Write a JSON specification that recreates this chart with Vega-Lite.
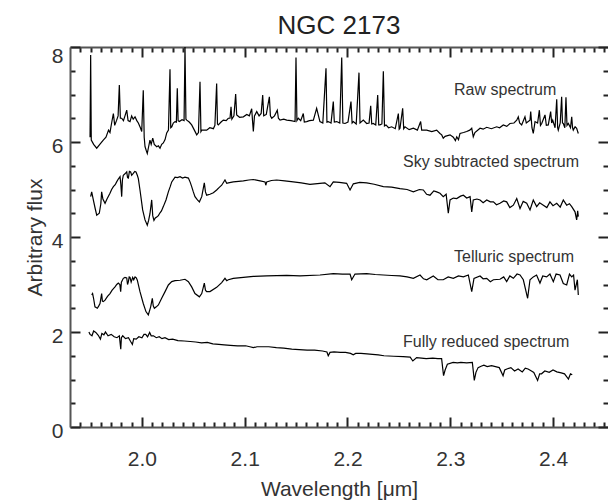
{
  "$schema": "https://vega.github.io/schema/vega-lite/v6.json",
  "width": 538,
  "height": 380,
  "autosize": {"type": "none"},
  "padding": {"left": 70, "top": 47, "right": 0, "bottom": 75},
  "background": "white",
  "title": {"text": "NGC 2173", "fontSize": 26, "fontWeight": "normal", "font": "Liberation Sans", "color": "#222", "offset": 6, "frame": "group", "anchor": "middle"},
  "config": {
    "view": {"stroke": null},
    "axis": {"grid": false, "domainColor": "#555", "tickColor": "#222", "domainWidth": 2, "tickWidth": 2, "labelFont": "Liberation Sans", "titleFont": "Liberation Sans", "labelColor": "#333", "titleColor": "#333", "labelFontSize": 21, "titleFontSize": 21, "titleFontWeight": "normal", "labelOverlap": false, "labelBound": false, "labelFlush": false}
  },
  "datasets": {
    "labels": [
      {"label": "Raw spectrum", "w": 2.3037, "f": 7.095},
      {"label": "Sky subtracted spectrum", "w": 2.254, "f": 5.585},
      {"label": "Telluric spectrum", "w": 2.3037, "f": 3.585},
      {"label": "Fully reduced spectrum", "w": 2.254, "f": 1.796}
    ],
    "spectra": [
      {"s":"raw","w":1.9495,"f":6.10},{"s":"raw","w":1.9501,"f":7.83},{"s":"raw","w":1.9507,"f":6.04},{"s":"raw","w":1.9530,"f":5.95},{"s":"raw","w":1.9560,"f":5.87},{"s":"raw","w":1.9590,"f":5.95},{"s":"raw","w":1.9624,"f":6.04},{"s":"raw","w":1.9650,"f":6.10},{"s":"raw","w":1.9675,"f":6.25},{"s":"raw","w":1.9689,"f":6.20},{"s":"raw","w":1.9705,"f":6.40},{"s":"raw","w":1.9722,"f":6.60},{"s":"raw","w":1.9735,"f":6.35},{"s":"raw","w":1.9754,"f":6.46},{"s":"raw","w":1.9768,"f":6.55},{"s":"raw","w":1.9780,"f":7.20},{"s":"raw","w":1.9790,"f":6.50},{"s":"raw","w":1.9803,"f":6.50},{"s":"raw","w":1.9820,"f":6.45},{"s":"raw","w":1.9835,"f":6.55},{"s":"raw","w":1.9852,"f":6.67},{"s":"raw","w":1.9865,"f":6.45},{"s":"raw","w":1.9884,"f":6.43},{"s":"raw","w":1.9900,"f":6.55},{"s":"raw","w":1.9915,"f":6.48},{"s":"raw","w":1.9933,"f":6.53},{"s":"raw","w":1.9950,"f":6.45},{"s":"raw","w":1.9965,"f":6.40},{"s":"raw","w":1.9985,"f":6.30},{"s":"raw","w":1.9998,"f":6.22},{"s":"raw","w":2.0013,"f":7.09},{"s":"raw","w":2.0022,"f":6.10},{"s":"raw","w":2.0030,"f":5.90},{"s":"raw","w":2.0042,"f":5.82},{"s":"raw","w":2.0052,"f":5.76},{"s":"raw","w":2.0065,"f":5.90},{"s":"raw","w":2.0078,"f":6.04},{"s":"raw","w":2.0090,"f":5.95},{"s":"raw","w":2.0105,"f":6.08},{"s":"raw","w":2.0120,"f":5.95},{"s":"raw","w":2.0144,"f":5.90},{"s":"raw","w":2.0160,"f":5.92},{"s":"raw","w":2.0176,"f":5.87},{"s":"raw","w":2.0192,"f":5.95},{"s":"raw","w":2.0208,"f":5.98},{"s":"raw","w":2.0225,"f":6.05},{"s":"raw","w":2.0241,"f":6.19},{"s":"raw","w":2.0258,"f":6.25},{"s":"raw","w":2.0273,"f":7.53},{"s":"raw","w":2.0280,"f":6.30},{"s":"raw","w":2.0290,"f":6.32},{"s":"raw","w":2.0305,"f":6.40},{"s":"raw","w":2.0322,"f":6.43},{"s":"raw","w":2.0335,"f":6.42},{"s":"raw","w":2.0344,"f":7.13},{"s":"raw","w":2.0352,"f":6.45},{"s":"raw","w":2.0364,"f":6.43},{"s":"raw","w":2.0390,"f":6.47},{"s":"raw","w":2.0410,"f":6.45},{"s":"raw","w":2.0419,"f":8.0},{"s":"raw","w":2.0428,"f":6.48},{"s":"raw","w":2.0436,"f":6.46},{"s":"raw","w":2.0460,"f":6.42},{"s":"raw","w":2.0484,"f":6.36},{"s":"raw","w":2.0510,"f":6.25},{"s":"raw","w":2.0533,"f":6.15},{"s":"raw","w":2.0550,"f":6.20},{"s":"raw","w":2.0565,"f":7.27},{"s":"raw","w":2.0574,"f":6.22},{"s":"raw","w":2.0582,"f":6.25},{"s":"raw","w":2.0605,"f":6.25},{"s":"raw","w":2.0630,"f":6.25},{"s":"raw","w":2.0660,"f":6.30},{"s":"raw","w":2.0695,"f":6.28},{"s":"raw","w":2.0710,"f":6.35},{"s":"raw","w":2.0727,"f":7.23},{"s":"raw","w":2.0735,"f":6.38},{"s":"raw","w":2.0743,"f":6.36},{"s":"raw","w":2.0770,"f":6.42},{"s":"raw","w":2.0792,"f":6.46},{"s":"raw","w":2.0820,"f":6.45},{"s":"raw","w":2.0840,"f":6.50},{"s":"raw","w":2.0857,"f":6.50},{"s":"raw","w":2.0867,"f":6.74},{"s":"raw","w":2.0875,"f":6.48},{"s":"raw","w":2.0895,"f":6.55},{"s":"raw","w":2.0912,"f":7.01},{"s":"raw","w":2.0922,"f":6.57},{"s":"raw","w":2.0950,"f":6.52},{"s":"raw","w":2.0987,"f":6.53},{"s":"raw","w":2.1020,"f":6.58},{"s":"raw","w":2.1045,"f":6.55},{"s":"raw","w":2.1068,"f":6.70},{"s":"raw","w":2.1076,"f":6.45},{"s":"raw","w":2.1084,"f":6.22},{"s":"raw","w":2.1095,"f":6.55},{"s":"raw","w":2.1117,"f":6.64},{"s":"raw","w":2.1140,"f":6.55},{"s":"raw","w":2.1160,"f":6.60},{"s":"raw","w":2.1175,"f":6.99},{"s":"raw","w":2.1185,"f":6.55},{"s":"raw","w":2.1210,"f":6.58},{"s":"raw","w":2.1240,"f":6.95},{"s":"raw","w":2.1250,"f":6.55},{"s":"raw","w":2.1263,"f":6.50},{"s":"raw","w":2.1290,"f":6.55},{"s":"raw","w":2.1317,"f":6.67},{"s":"raw","w":2.1328,"f":6.50},{"s":"raw","w":2.1344,"f":6.46},{"s":"raw","w":2.1380,"f":6.48},{"s":"raw","w":2.1409,"f":6.46},{"s":"raw","w":2.1450,"f":6.45},{"s":"raw","w":2.1490,"f":6.43},{"s":"raw","w":2.1499,"f":7.78},{"s":"raw","w":2.1508,"f":6.45},{"s":"raw","w":2.1522,"f":6.50},{"s":"raw","w":2.1545,"f":6.45},{"s":"raw","w":2.1570,"f":6.60},{"s":"raw","w":2.1580,"f":6.42},{"s":"raw","w":2.1603,"f":6.43},{"s":"raw","w":2.1630,"f":6.45},{"s":"raw","w":2.1668,"f":6.46},{"s":"raw","w":2.1700,"f":6.71},{"s":"raw","w":2.1732,"f":6.43},{"s":"raw","w":2.1760,"f":6.40},{"s":"raw","w":2.1791,"f":7.55},{"s":"raw","w":2.1800,"f":6.42},{"s":"raw","w":2.1813,"f":6.43},{"s":"raw","w":2.1840,"f":6.40},{"s":"raw","w":2.1862,"f":6.85},{"s":"raw","w":2.1872,"f":6.42},{"s":"raw","w":2.1895,"f":6.43},{"s":"raw","w":2.1925,"f":6.40},{"s":"raw","w":2.1944,"f":7.78},{"s":"raw","w":2.1955,"f":6.40},{"s":"raw","w":2.1976,"f":6.39},{"s":"raw","w":2.2005,"f":6.42},{"s":"raw","w":2.2034,"f":6.85},{"s":"raw","w":2.2045,"f":6.40},{"s":"raw","w":2.2057,"f":6.43},{"s":"raw","w":2.2085,"f":6.38},{"s":"raw","w":2.2112,"f":7.46},{"s":"raw","w":2.2122,"f":6.40},{"s":"raw","w":2.2154,"f":6.46},{"s":"raw","w":2.2187,"f":6.39},{"s":"raw","w":2.2210,"f":6.40},{"s":"raw","w":2.2226,"f":6.76},{"s":"raw","w":2.2236,"f":6.38},{"s":"raw","w":2.2251,"f":6.39},{"s":"raw","w":2.2275,"f":6.36},{"s":"raw","w":2.2294,"f":6.99},{"s":"raw","w":2.2304,"f":6.36},{"s":"raw","w":2.2316,"f":6.36},{"s":"raw","w":2.2335,"f":6.38},{"s":"raw","w":2.2349,"f":7.49},{"s":"raw","w":2.2360,"f":6.34},{"s":"raw","w":2.2375,"f":6.36},{"s":"raw","w":2.2400,"f":6.30},{"s":"raw","w":2.2430,"f":6.32},{"s":"raw","w":2.2465,"f":6.28},{"s":"raw","w":2.2495,"f":6.60},{"s":"raw","w":2.2503,"f":6.27},{"s":"raw","w":2.2511,"f":6.29},{"s":"raw","w":2.2537,"f":6.71},{"s":"raw","w":2.2547,"f":6.28},{"s":"raw","w":2.2560,"f":6.32},{"s":"raw","w":2.2600,"f":6.26},{"s":"raw","w":2.2641,"f":6.29},{"s":"raw","w":2.2680,"f":6.25},{"s":"raw","w":2.2712,"f":6.43},{"s":"raw","w":2.2722,"f":6.25},{"s":"raw","w":2.2771,"f":6.25},{"s":"raw","w":2.2820,"f":6.22},{"s":"raw","w":2.2868,"f":6.25},{"s":"raw","w":2.2900,"f":6.18},{"s":"raw","w":2.2917,"f":6.15},{"s":"raw","w":2.2932,"f":6.08},{"s":"raw","w":2.2950,"f":6.12},{"s":"raw","w":2.2998,"f":6.15},{"s":"raw","w":2.3030,"f":6.10},{"s":"raw","w":2.3050,"f":6.03},{"s":"raw","w":2.3063,"f":6.11},{"s":"raw","w":2.3080,"f":6.05},{"s":"raw","w":2.3095,"f":6.18},{"s":"raw","w":2.3130,"f":6.20},{"s":"raw","w":2.3160,"f":6.22},{"s":"raw","w":2.3190,"f":6.25},{"s":"raw","w":2.3209,"f":6.29},{"s":"raw","w":2.3224,"f":6.11},{"s":"raw","w":2.3240,"f":6.20},{"s":"raw","w":2.3290,"f":6.29},{"s":"raw","w":2.3320,"f":6.27},{"s":"raw","w":2.3355,"f":6.31},{"s":"raw","w":2.3400,"f":6.28},{"s":"raw","w":2.3452,"f":6.32},{"s":"raw","w":2.3480,"f":6.30},{"s":"raw","w":2.3516,"f":6.36},{"s":"raw","w":2.3550,"f":6.33},{"s":"raw","w":2.3581,"f":6.39},{"s":"raw","w":2.3620,"f":6.40},{"s":"raw","w":2.3647,"f":6.46},{"s":"raw","w":2.3662,"f":6.53},{"s":"raw","w":2.3675,"f":6.40},{"s":"raw","w":2.3695,"f":6.36},{"s":"raw","w":2.3727,"f":6.53},{"s":"raw","w":2.3740,"f":6.40},{"s":"raw","w":2.3776,"f":6.46},{"s":"raw","w":2.3783,"f":6.64},{"s":"raw","w":2.3795,"f":6.30},{"s":"raw","w":2.3808,"f":6.18},{"s":"raw","w":2.3825,"f":6.43},{"s":"raw","w":2.3850,"f":6.40},{"s":"raw","w":2.3867,"f":6.67},{"s":"raw","w":2.3878,"f":6.35},{"s":"raw","w":2.3890,"f":6.39},{"s":"raw","w":2.3922,"f":6.57},{"s":"raw","w":2.3935,"f":6.35},{"s":"raw","w":2.3954,"f":6.36},{"s":"raw","w":2.3977,"f":6.64},{"s":"raw","w":2.3987,"f":6.40},{"s":"raw","w":2.3997,"f":6.46},{"s":"raw","w":2.4020,"f":6.30},{"s":"raw","w":2.4036,"f":6.90},{"s":"raw","w":2.4045,"f":6.30},{"s":"raw","w":2.4051,"f":6.25},{"s":"raw","w":2.4070,"f":6.40},{"s":"raw","w":2.4084,"f":6.95},{"s":"raw","w":2.4092,"f":6.40},{"s":"raw","w":2.4100,"f":6.39},{"s":"raw","w":2.4115,"f":6.30},{"s":"raw","w":2.4126,"f":6.94},{"s":"raw","w":2.4136,"f":6.35},{"s":"raw","w":2.4149,"f":6.39},{"s":"raw","w":2.4170,"f":6.30},{"s":"raw","w":2.4182,"f":6.53},{"s":"raw","w":2.4190,"f":6.30},{"s":"raw","w":2.4197,"f":6.25},{"s":"raw","w":2.4215,"f":6.32},{"s":"raw","w":2.4230,"f":6.29},{"s":"raw","w":2.4246,"f":6.18},
      {"s":"sky","w":1.9501,"f":4.85},{"s":"sky","w":1.9511,"f":4.95},{"s":"sky","w":1.9527,"f":4.78},{"s":"sky","w":1.9545,"f":4.60},{"s":"sky","w":1.9560,"f":4.46},{"s":"sky","w":1.9585,"f":4.50},{"s":"sky","w":1.9600,"f":4.70},{"s":"sky","w":1.9608,"f":4.95},{"s":"sky","w":1.9620,"f":4.80},{"s":"sky","w":1.9641,"f":4.71},{"s":"sky","w":1.9660,"f":4.80},{"s":"sky","w":1.9689,"f":4.92},{"s":"sky","w":1.9705,"f":5.00},{"s":"sky","w":1.9722,"f":5.06},{"s":"sky","w":1.9740,"f":5.10},{"s":"sky","w":1.9754,"f":5.16},{"s":"sky","w":1.9770,"f":5.22},{"s":"sky","w":1.9787,"f":5.27},{"s":"sky","w":1.9795,"f":5.10},{"s":"sky","w":1.9803,"f":4.85},{"s":"sky","w":1.9810,"f":5.20},{"s":"sky","w":1.9819,"f":5.30},{"s":"sky","w":1.9835,"f":5.33},{"s":"sky","w":1.9852,"f":5.37},{"s":"sky","w":1.9860,"f":5.25},{"s":"sky","w":1.9868,"f":5.24},{"s":"sky","w":1.9878,"f":5.38},{"s":"sky","w":1.9890,"f":5.37},{"s":"sky","w":1.9900,"f":5.30},{"s":"sky","w":1.9916,"f":5.34},{"s":"sky","w":1.9930,"f":5.38},{"s":"sky","w":1.9942,"f":5.37},{"s":"sky","w":1.9955,"f":5.30},{"s":"sky","w":1.9965,"f":5.23},{"s":"sky","w":1.9981,"f":4.99},{"s":"sky","w":2.0007,"f":4.57},{"s":"sky","w":2.0030,"f":4.36},{"s":"sky","w":2.0052,"f":4.25},{"s":"sky","w":2.0065,"f":4.35},{"s":"sky","w":2.0078,"f":4.49},{"s":"sky","w":2.0095,"f":4.78},{"s":"sky","w":2.0105,"f":4.45},{"s":"sky","w":2.0117,"f":4.35},{"s":"sky","w":2.0130,"f":4.40},{"s":"sky","w":2.0144,"f":4.42},{"s":"sky","w":2.0160,"f":4.45},{"s":"sky","w":2.0176,"f":4.51},{"s":"sky","w":2.0190,"f":4.55},{"s":"sky","w":2.0208,"f":4.64},{"s":"sky","w":2.0234,"f":4.78},{"s":"sky","w":2.0257,"f":4.95},{"s":"sky","w":2.0275,"f":5.06},{"s":"sky","w":2.0290,"f":5.16},{"s":"sky","w":2.0322,"f":5.26},{"s":"sky","w":2.0345,"f":5.25},{"s":"sky","w":2.0371,"f":5.27},{"s":"sky","w":2.0395,"f":5.24},{"s":"sky","w":2.0419,"f":5.26},{"s":"sky","w":2.0452,"f":5.24},{"s":"sky","w":2.0470,"f":5.15},{"s":"sky","w":2.0484,"f":5.06},{"s":"sky","w":2.0500,"f":4.95},{"s":"sky","w":2.0516,"f":4.85},{"s":"sky","w":2.0540,"f":4.78},{"s":"sky","w":2.0559,"f":4.74},{"s":"sky","w":2.0582,"f":4.85},{"s":"sky","w":2.0607,"f":5.14},{"s":"sky","w":2.0618,"f":4.95},{"s":"sky","w":2.0630,"f":4.88},{"s":"sky","w":2.0662,"f":4.90},{"s":"sky","w":2.0695,"f":4.93},{"s":"sky","w":2.0727,"f":4.99},{"s":"sky","w":2.0750,"f":5.04},{"s":"sky","w":2.0776,"f":5.09},{"s":"sky","w":2.0808,"f":5.20},{"s":"sky","w":2.0825,"f":5.13},{"s":"sky","w":2.0841,"f":5.14},{"s":"sky","w":2.0889,"f":5.16},{"s":"sky","w":2.0940,"f":5.17},{"s":"sky","w":2.0987,"f":5.18},{"s":"sky","w":2.1040,"f":5.20},{"s":"sky","w":2.1084,"f":5.21},{"s":"sky","w":2.1150,"f":5.18},{"s":"sky","w":2.1198,"f":5.16},{"s":"sky","w":2.1205,"f":5.09},{"s":"sky","w":2.1214,"f":5.16},{"s":"sky","w":2.1260,"f":5.19},{"s":"sky","w":2.1311,"f":5.20},{"s":"sky","w":2.1390,"f":5.18},{"s":"sky","w":2.1473,"f":5.16},{"s":"sky","w":2.1550,"f":5.14},{"s":"sky","w":2.1635,"f":5.11},{"s":"sky","w":2.1732,"f":5.13},{"s":"sky","w":2.1780,"f":5.14},{"s":"sky","w":2.1830,"f":5.06},{"s":"sky","w":2.1862,"f":5.16},{"s":"sky","w":2.1920,"f":5.15},{"s":"sky","w":2.1992,"f":5.13},{"s":"sky","w":2.2025,"f":4.99},{"s":"sky","w":2.2057,"f":5.12},{"s":"sky","w":2.2120,"f":5.15},{"s":"sky","w":2.2187,"f":5.14},{"s":"sky","w":2.2260,"f":5.11},{"s":"sky","w":2.2349,"f":5.06},{"s":"sky","w":2.2430,"f":5.05},{"s":"sky","w":2.2511,"f":5.02},{"s":"sky","w":2.2580,"f":5.00},{"s":"sky","w":2.2641,"f":4.95},{"s":"sky","w":2.2700,"f":5.00},{"s":"sky","w":2.2738,"f":4.99},{"s":"sky","w":2.2770,"f":4.90},{"s":"sky","w":2.2803,"f":4.88},{"s":"sky","w":2.2840,"f":4.97},{"s":"sky","w":2.2868,"f":4.95},{"s":"sky","w":2.2900,"f":4.92},{"s":"sky","w":2.2932,"f":4.85},{"s":"sky","w":2.2960,"f":4.90},{"s":"sky","w":2.2981,"f":4.50},{"s":"sky","w":2.2998,"f":4.78},{"s":"sky","w":2.3030,"f":4.82},{"s":"sky","w":2.3063,"f":4.81},{"s":"sky","w":2.3100,"f":4.86},{"s":"sky","w":2.3128,"f":4.88},{"s":"sky","w":2.3160,"f":4.82},{"s":"sky","w":2.3193,"f":4.85},{"s":"sky","w":2.3209,"f":4.53},{"s":"sky","w":2.3224,"f":4.78},{"s":"sky","w":2.3260,"f":4.80},{"s":"sky","w":2.3290,"f":4.78},{"s":"sky","w":2.3320,"f":4.72},{"s":"sky","w":2.3355,"f":4.78},{"s":"sky","w":2.3390,"f":4.74},{"s":"sky","w":2.3420,"f":4.74},{"s":"sky","w":2.3450,"f":4.68},{"s":"sky","w":2.3484,"f":4.71},{"s":"sky","w":2.3520,"f":4.76},{"s":"sky","w":2.3549,"f":4.74},{"s":"sky","w":2.3580,"f":4.62},{"s":"sky","w":2.3614,"f":4.67},{"s":"sky","w":2.3647,"f":4.81},{"s":"sky","w":2.3679,"f":4.60},{"s":"sky","w":2.3710,"f":4.75},{"s":"sky","w":2.3744,"f":4.71},{"s":"sky","w":2.3776,"f":4.57},{"s":"sky","w":2.3808,"f":4.78},{"s":"sky","w":2.3841,"f":4.64},{"s":"sky","w":2.3870,"f":4.72},{"s":"sky","w":2.3906,"f":4.67},{"s":"sky","w":2.3940,"f":4.62},{"s":"sky","w":2.3970,"f":4.74},{"s":"sky","w":2.4000,"f":4.66},{"s":"sky","w":2.4036,"f":4.71},{"s":"sky","w":2.4070,"f":4.63},{"s":"sky","w":2.4100,"f":4.78},{"s":"sky","w":2.4133,"f":4.67},{"s":"sky","w":2.4160,"f":4.70},{"s":"sky","w":2.4182,"f":4.64},{"s":"sky","w":2.4214,"f":4.53},{"s":"sky","w":2.4230,"f":4.36},{"s":"sky","w":2.4240,"f":4.55},{"s":"sky","w":2.4246,"f":4.43},
      {"s":"tel","w":1.9511,"f":2.78},{"s":"tel","w":1.9520,"f":2.81},{"s":"tel","w":1.9530,"f":2.70},{"s":"tel","w":1.9543,"f":2.53},{"s":"tel","w":1.9566,"f":2.50},{"s":"tel","w":1.9580,"f":2.55},{"s":"tel","w":1.9592,"f":2.60},{"s":"tel","w":1.9608,"f":2.81},{"s":"tel","w":1.9615,"f":2.65},{"s":"tel","w":1.9624,"f":2.64},{"s":"tel","w":1.9641,"f":2.67},{"s":"tel","w":1.9665,"f":2.75},{"s":"tel","w":1.9689,"f":2.81},{"s":"tel","w":1.9710,"f":2.88},{"s":"tel","w":1.9738,"f":2.95},{"s":"tel","w":1.9755,"f":3.00},{"s":"tel","w":1.9770,"f":3.03},{"s":"tel","w":1.9785,"f":3.00},{"s":"tel","w":1.9793,"f":2.85},{"s":"tel","w":1.9800,"f":3.05},{"s":"tel","w":1.9819,"f":3.13},{"s":"tel","w":1.9835,"f":3.15},{"s":"tel","w":1.9852,"f":3.14},{"s":"tel","w":1.9860,"f":3.00},{"s":"tel","w":1.9868,"f":3.06},{"s":"tel","w":1.9876,"f":3.16},{"s":"tel","w":1.9884,"f":3.15},{"s":"tel","w":1.9895,"f":3.05},{"s":"tel","w":1.9910,"f":3.15},{"s":"tel","w":1.9920,"f":3.10},{"s":"tel","w":1.9933,"f":3.16},{"s":"tel","w":1.9945,"f":3.14},{"s":"tel","w":1.9955,"f":3.09},{"s":"tel","w":1.9981,"f":2.85},{"s":"tel","w":2.0013,"f":2.60},{"s":"tel","w":2.0039,"f":2.43},{"s":"tel","w":2.0062,"f":2.36},{"s":"tel","w":2.0085,"f":2.53},{"s":"tel","w":2.0101,"f":2.71},{"s":"tel","w":2.0110,"f":2.55},{"s":"tel","w":2.0121,"f":2.50},{"s":"tel","w":2.0140,"f":2.53},{"s":"tel","w":2.0160,"f":2.57},{"s":"tel","w":2.0192,"f":2.71},{"s":"tel","w":2.0225,"f":2.85},{"s":"tel","w":2.0257,"f":2.99},{"s":"tel","w":2.0290,"f":3.06},{"s":"tel","w":2.0322,"f":3.08},{"s":"tel","w":2.0371,"f":3.09},{"s":"tel","w":2.0419,"f":3.11},{"s":"tel","w":2.0452,"f":3.06},{"s":"tel","w":2.0484,"f":2.95},{"s":"tel","w":2.0516,"f":2.81},{"s":"tel","w":2.0559,"f":2.74},{"s":"tel","w":2.0582,"f":2.81},{"s":"tel","w":2.0607,"f":3.03},{"s":"tel","w":2.0618,"f":2.88},{"s":"tel","w":2.0630,"f":2.85},{"s":"tel","w":2.0662,"f":2.85},{"s":"tel","w":2.0727,"f":2.94},{"s":"tel","w":2.0776,"f":3.04},{"s":"tel","w":2.0808,"f":3.13},{"s":"tel","w":2.0825,"f":3.08},{"s":"tel","w":2.0841,"f":3.10},{"s":"tel","w":2.0889,"f":3.13},{"s":"tel","w":2.0987,"f":3.15},{"s":"tel","w":2.1084,"f":3.17},{"s":"tel","w":2.1214,"f":3.18},{"s":"tel","w":2.1409,"f":3.19},{"s":"tel","w":2.1538,"f":3.18},{"s":"tel","w":2.1733,"f":3.20},{"s":"tel","w":2.1862,"f":3.23},{"s":"tel","w":2.1950,"f":3.22},{"s":"tel","w":2.2025,"f":3.22},{"s":"tel","w":2.2041,"f":3.10},{"s":"tel","w":2.2073,"f":3.22},{"s":"tel","w":2.2187,"f":3.23},{"s":"tel","w":2.2270,"f":3.21},{"s":"tel","w":2.2349,"f":3.20},{"s":"tel","w":2.2430,"f":3.19},{"s":"tel","w":2.2511,"f":3.18},{"s":"tel","w":2.2580,"f":3.16},{"s":"tel","w":2.2641,"f":3.13},{"s":"tel","w":2.2706,"f":3.20},{"s":"tel","w":2.2740,"f":3.12},{"s":"tel","w":2.2771,"f":3.10},{"s":"tel","w":2.2835,"f":3.18},{"s":"tel","w":2.2880,"f":3.10},{"s":"tel","w":2.2932,"f":3.10},{"s":"tel","w":2.2980,"f":3.16},{"s":"tel","w":2.3030,"f":3.13},{"s":"tel","w":2.3080,"f":3.18},{"s":"tel","w":2.3128,"f":3.16},{"s":"tel","w":2.3176,"f":3.20},{"s":"tel","w":2.3209,"f":2.85},{"s":"tel","w":2.3231,"f":3.13},{"s":"tel","w":2.3290,"f":3.18},{"s":"tel","w":2.3320,"f":3.12},{"s":"tel","w":2.3355,"f":3.13},{"s":"tel","w":2.3390,"f":3.06},{"s":"tel","w":2.3420,"f":3.10},{"s":"tel","w":2.3484,"f":3.11},{"s":"tel","w":2.3520,"f":3.16},{"s":"tel","w":2.3549,"f":3.06},{"s":"tel","w":2.3580,"f":3.18},{"s":"tel","w":2.3614,"f":3.13},{"s":"tel","w":2.3650,"f":3.22},{"s":"tel","w":2.3679,"f":3.20},{"s":"tel","w":2.3711,"f":3.10},{"s":"tel","w":2.3753,"f":2.71},{"s":"tel","w":2.3776,"f":3.10},{"s":"tel","w":2.3808,"f":3.16},{"s":"tel","w":2.3840,"f":3.20},{"s":"tel","w":2.3873,"f":3.03},{"s":"tel","w":2.3900,"f":3.18},{"s":"tel","w":2.3938,"f":3.16},{"s":"tel","w":2.3970,"f":3.22},{"s":"tel","w":2.4003,"f":3.06},{"s":"tel","w":2.4030,"f":3.22},{"s":"tel","w":2.4068,"f":3.20},{"s":"tel","w":2.4100,"f":3.02},{"s":"tel","w":2.4133,"f":2.99},{"s":"tel","w":2.4160,"f":3.22},{"s":"tel","w":2.4182,"f":3.16},{"s":"tel","w":2.4200,"f":3.20},{"s":"tel","w":2.4214,"f":2.88},{"s":"tel","w":2.4237,"f":3.10},{"s":"tel","w":2.4246,"f":2.78},
      {"s":"red","w":1.9484,"f":2.00},{"s":"red","w":1.9495,"f":1.95},{"s":"red","w":1.9514,"f":1.92},{"s":"red","w":1.9530,"f":2.02},{"s":"red","w":1.9551,"f":1.99},{"s":"red","w":1.9575,"f":1.93},{"s":"red","w":1.9596,"f":1.85},{"s":"red","w":1.9610,"f":1.97},{"s":"red","w":1.9630,"f":1.94},{"s":"red","w":1.9645,"f":2.00},{"s":"red","w":1.9670,"f":1.92},{"s":"red","w":1.9701,"f":1.95},{"s":"red","w":1.9730,"f":1.90},{"s":"red","w":1.9757,"f":1.88},{"s":"red","w":1.9780,"f":1.92},{"s":"red","w":1.9794,"f":1.64},{"s":"red","w":1.9800,"f":1.88},{"s":"red","w":1.9813,"f":1.92},{"s":"red","w":1.9840,"f":1.86},{"s":"red","w":1.9869,"f":1.88},{"s":"red","w":1.9890,"f":1.80},{"s":"red","w":1.9907,"f":1.74},{"s":"red","w":1.9920,"f":1.86},{"s":"red","w":1.9944,"f":1.85},{"s":"red","w":1.9970,"f":1.90},{"s":"red","w":2.0000,"f":1.88},{"s":"red","w":2.0020,"f":1.95},{"s":"red","w":2.0037,"f":1.95},{"s":"red","w":2.0055,"f":1.90},{"s":"red","w":2.0075,"f":1.99},{"s":"red","w":2.0090,"f":1.92},{"s":"red","w":2.0112,"f":1.92},{"s":"red","w":2.0140,"f":1.88},{"s":"red","w":2.0168,"f":1.90},{"s":"red","w":2.0195,"f":1.86},{"s":"red","w":2.0224,"f":1.88},{"s":"red","w":2.0260,"f":1.84},{"s":"red","w":2.0299,"f":1.85},{"s":"red","w":2.0350,"f":1.82},{"s":"red","w":2.0411,"f":1.81},{"s":"red","w":2.0470,"f":1.80},{"s":"red","w":2.0523,"f":1.79},{"s":"red","w":2.0580,"f":1.77},{"s":"red","w":2.0636,"f":1.78},{"s":"red","w":2.0690,"f":1.75},{"s":"red","w":2.0748,"f":1.74},{"s":"red","w":2.0800,"f":1.73},{"s":"red","w":2.0860,"f":1.72},{"s":"red","w":2.0930,"f":1.71},{"s":"red","w":2.1009,"f":1.71},{"s":"red","w":2.1050,"f":1.69},{"s":"red","w":2.1084,"f":1.67},{"s":"red","w":2.1120,"f":1.69},{"s":"red","w":2.1159,"f":1.69},{"s":"red","w":2.1234,"f":1.69},{"s":"red","w":2.1308,"f":1.67},{"s":"red","w":2.1380,"f":1.66},{"s":"red","w":2.1458,"f":1.64},{"s":"red","w":2.1530,"f":1.63},{"s":"red","w":2.1607,"f":1.62},{"s":"red","w":2.1680,"f":1.62},{"s":"red","w":2.1757,"f":1.60},{"s":"red","w":2.1800,"f":1.58},{"s":"red","w":2.1813,"f":1.50},{"s":"red","w":2.1830,"f":1.57},{"s":"red","w":2.1869,"f":1.58},{"s":"red","w":2.1930,"f":1.57},{"s":"red","w":2.1981,"f":1.57},{"s":"red","w":2.2030,"f":1.55},{"s":"red","w":2.2056,"f":1.52},{"s":"red","w":2.2080,"f":1.55},{"s":"red","w":2.2131,"f":1.55},{"s":"red","w":2.2190,"f":1.54},{"s":"red","w":2.2243,"f":1.53},{"s":"red","w":2.2300,"f":1.52},{"s":"red","w":2.2355,"f":1.50},{"s":"red","w":2.2450,"f":1.49},{"s":"red","w":2.2542,"f":1.48},{"s":"red","w":2.2610,"f":1.47},{"s":"red","w":2.2636,"f":1.39},{"s":"red","w":2.2673,"f":1.46},{"s":"red","w":2.2720,"f":1.45},{"s":"red","w":2.2766,"f":1.44},{"s":"red","w":2.2830,"f":1.45},{"s":"red","w":2.2879,"f":1.44},{"s":"red","w":2.2916,"f":1.44},{"s":"red","w":2.2935,"f":1.08},{"s":"red","w":2.2950,"f":1.20},{"s":"red","w":2.2972,"f":1.32},{"s":"red","w":2.3028,"f":1.36},{"s":"red","w":2.3070,"f":1.35},{"s":"red","w":2.3103,"f":1.36},{"s":"red","w":2.3160,"f":1.35},{"s":"red","w":2.3215,"f":1.36},{"s":"red","w":2.3234,"f":0.98},{"s":"red","w":2.3250,"f":1.15},{"s":"red","w":2.3271,"f":1.25},{"s":"red","w":2.3300,"f":1.28},{"s":"red","w":2.3327,"f":1.30},{"s":"red","w":2.3360,"f":1.27},{"s":"red","w":2.3402,"f":1.29},{"s":"red","w":2.3440,"f":1.27},{"s":"red","w":2.3477,"f":1.25},{"s":"red","w":2.3514,"f":1.08},{"s":"red","w":2.3530,"f":1.20},{"s":"red","w":2.3551,"f":1.22},{"s":"red","w":2.3590,"f":1.25},{"s":"red","w":2.3626,"f":1.18},{"s":"red","w":2.3660,"f":1.22},{"s":"red","w":2.3701,"f":1.16},{"s":"red","w":2.3730,"f":1.24},{"s":"red","w":2.3757,"f":1.22},{"s":"red","w":2.3790,"f":1.18},{"s":"red","w":2.3813,"f":1.15},{"s":"red","w":2.3850,"f":0.98},{"s":"red","w":2.3870,"f":1.12},{"s":"red","w":2.3888,"f":1.12},{"s":"red","w":2.3920,"f":1.18},{"s":"red","w":2.3963,"f":1.15},{"s":"red","w":2.4000,"f":1.20},{"s":"red","w":2.4037,"f":1.16},{"s":"red","w":2.4080,"f":1.14},{"s":"red","w":2.4112,"f":1.12},{"s":"red","w":2.4150,"f":1.01},{"s":"red","w":2.4170,"f":1.12},{"s":"red","w":2.4187,"f":1.10}
    ]
  },
  "layer": [
    {
      "data": {"name": "spectra"},
      "mark": {"type": "line", "color": "black", "strokeWidth": 1.2, "clip": true},
      "encoding": {
        "x": {"field": "w", "type": "quantitative", "scale": {"domain": [1.93, 2.4535], "nice": false, "zero": false},
          "axis": {"orient": "bottom", "title": "Wavelength [μm]", "titlePadding": 4,
            "values": [1.94,1.95,1.96,1.97,1.98,1.99,2.0,2.01,2.02,2.03,2.04,2.05,2.06,2.07,2.08,2.09,2.1,2.11,2.12,2.13,2.14,2.15,2.16,2.17,2.18,2.19,2.2,2.21,2.22,2.23,2.24,2.25,2.26,2.27,2.28,2.29,2.3,2.31,2.32,2.33,2.34,2.35,2.36,2.37,2.38,2.39,2.4,2.41,2.42,2.43,2.44,2.45],
            "tickSize": {"condition": {"test": "abs(datum.value*10 - round(datum.value*10)) < 0.000001", "value": -10}, "value": -5},
            "labelExpr": "abs(datum.value*10 - round(datum.value*10)) < 0.000001 ? format(datum.value, '.1f') : ''",
            "labelPadding": 31}},
        "y": {"field": "f", "type": "quantitative", "scale": {"domain": [0, 8], "nice": false, "zero": false},
          "axis": {"orient": "left", "title": "Arbitrary flux", "titlePadding": 6,
            "values": [0,0.5,1,1.5,2,2.5,3,3.5,4,4.5,5,5.5,6,6.5,7,7.5,8],
            "tickSize": {"condition": {"test": "datum.value % 2 == 0", "value": -10}, "value": -5},
            "labelExpr": "datum.value % 2 == 0 ? format(datum.value, 'd') : ''",
            "labelOffset": {"condition": {"test": "datum.value == 8", "value": 9}, "value": 4},
            "labelPadding": 17}},
        "detail": {"field": "s"}
      }
    },
    {
      "data": {"name": "labels"},
      "mark": {"type": "text", "align": "left", "baseline": "middle", "font": "Liberation Sans", "fontSize": 16, "color": "#333"},
      "encoding": {
        "x": {"field": "w", "type": "quantitative", "scale": {"domain": [1.93, 2.4535], "nice": false, "zero": false},
          "axis": {"orient": "top", "title": null, "labels": false, "domain": true, "ticks": true,
            "values": [1.94,1.95,1.96,1.97,1.98,1.99,2.0,2.01,2.02,2.03,2.04,2.05,2.06,2.07,2.08,2.09,2.1,2.11,2.12,2.13,2.14,2.15,2.16,2.17,2.18,2.19,2.2,2.21,2.22,2.23,2.24,2.25,2.26,2.27,2.28,2.29,2.3,2.31,2.32,2.33,2.34,2.35,2.36,2.37,2.38,2.39,2.4,2.41,2.42,2.43,2.44,2.45],
            "tickSize": {"condition": {"test": "abs(datum.value*10 - round(datum.value*10)) < 0.000001", "value": -10}, "value": -5}}},
        "y": {"field": "f", "type": "quantitative", "scale": {"domain": [0, 8], "nice": false, "zero": false},
          "axis": {"orient": "right", "title": null, "labels": false, "domain": false,
            "values": [0,0.5,1,1.5,2,2.5,3,3.5,4,4.5,5,5.5,6,6.5,7,7.5,8],
            "tickSize": {"condition": {"test": "datum.value % 2 == 0", "value": -10}, "value": -5}}},
        "text": {"field": "label"}
      }
    }
  ],
  "resolve": {"axis": {"x": "independent", "y": "independent"}}
}
